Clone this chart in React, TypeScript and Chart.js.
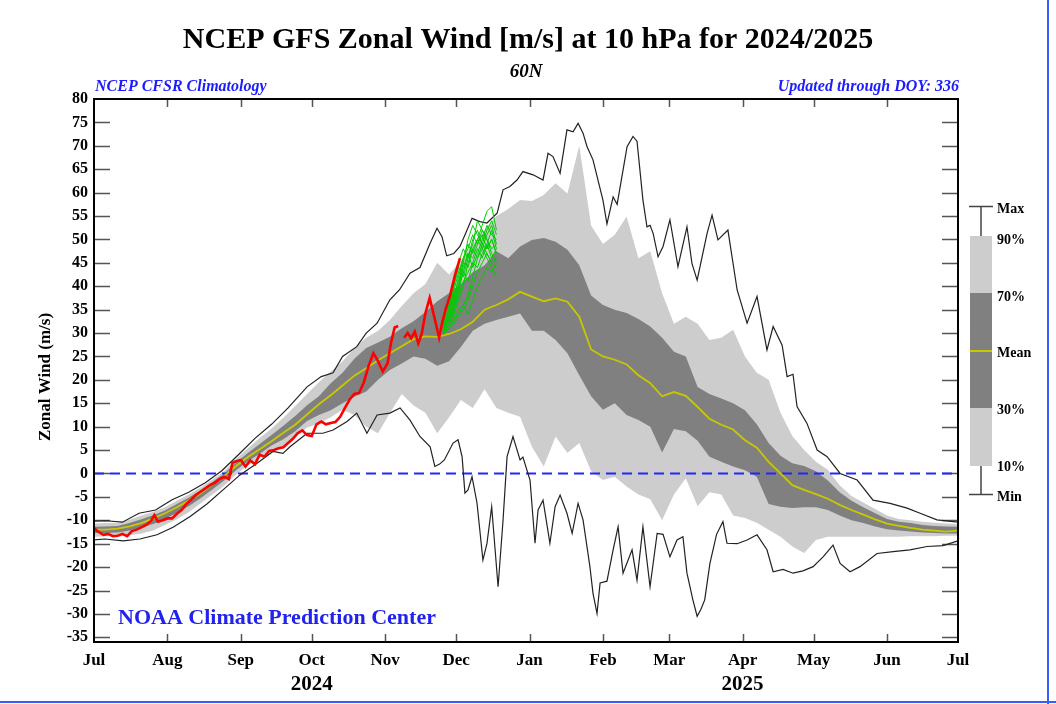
import React, { useEffect, useRef } from "react";
import { Chart, registerables } from "chart.js";
Chart.register(...registerables);

// ---------- DATA (day 0 = Jul 1 2024, day 365 = Jul 1 2025) ----------
const CLIM_DAYS = [0,5,10,15,20,25,30,35,40,45,50,55,60,65,70,75,80,85,90,95,100,105,110,115,120,125,130,135,140,145,150,155,160,165,170,175,180,185,190,195,200,205,210,215,220,225,230,235,240,245,250,255,260,265,270,275,280,285,290,295,300,305,310,315,320,325,330,335,340,345,350,355,360,365];

const MEAN = [-12.0,-12.0,-11.8,-11.3,-10.6,-9.6,-8.5,-7.2,-5.8,-4.2,-2.3,-0.5,1.6,3.5,5.2,6.9,8.7,10.4,12.6,14.8,16.7,18.8,20.9,22.5,24.2,25.7,27.2,28.7,29.3,29.2,29.8,30.8,32.4,35.0,36.0,37.2,38.8,37.8,36.8,37.4,36.7,33.5,26.5,25.0,24.3,23.3,21.0,19.3,16.5,17.4,16.6,14.2,11.7,10.4,9.4,7.1,5.5,2.5,0.0,-2.5,-3.5,-4.4,-5.4,-6.7,-7.8,-8.8,-9.8,-10.7,-11.2,-11.6,-12.0,-12.2,-12.4,-12.2];

const P90 = [-10.7,-10.6,-10.6,-9.9,-9.0,-8.2,-7.2,-5.8,-4.5,-3.0,-1.3,0.5,3.1,5.4,7.6,9.6,11.9,14.4,17.0,19.5,21.8,24.0,26.8,29.0,30.5,32.8,35.8,38.5,40.5,45.0,42.5,45.5,49.0,52.0,55.0,56.5,58.4,58.2,59.5,62.0,59.8,70.0,53.0,49.0,51.0,54.9,46.0,47.5,38.5,32.0,33.5,32.0,28.5,29.0,30.7,25.0,21.5,20.0,13.0,8.0,5.0,2.5,0.8,-2.5,-4.8,-6.2,-7.6,-9.0,-9.7,-10.0,-10.3,-10.5,-10.7,-10.8];

const P70 = [-11.4,-11.3,-11.2,-10.6,-9.8,-8.9,-7.9,-6.5,-5.2,-3.6,-1.8,0.0,2.3,4.4,6.3,8.2,10.2,12.3,14.6,16.5,19.3,21.5,24.5,26.8,28.0,29.2,31.0,32.5,34.5,36.8,38.5,40.5,43.0,44.5,47.5,46.0,48.5,49.9,50.3,49.5,47.8,44.5,38.0,36.0,35.0,34.3,33.0,31.4,29.0,26.0,25.0,18.5,17.0,16.0,15.0,13.5,10.5,6.5,3.8,2.2,1.6,0.5,-1.5,-4.0,-5.8,-7.2,-8.5,-9.7,-10.3,-10.6,-11.0,-11.2,-11.3,-11.4];

const P30 = [-12.7,-12.7,-12.6,-12.2,-11.6,-10.8,-9.7,-8.4,-7.0,-5.3,-3.4,-1.5,0.7,2.6,4.2,6.0,7.3,9.0,11.2,12.5,13.5,15.0,16.4,17.5,20.0,22.1,23.5,25.0,24.5,23.0,24.0,27.0,30.5,32.0,32.8,33.5,34.2,30.5,30.5,28.5,25.7,21.0,16.5,13.6,15.0,12.5,11.4,10.0,4.5,9.5,9.0,7.0,3.6,2.5,1.5,0.7,-0.7,-6.5,-7.1,-7.4,-7.2,-7.2,-7.8,-9.0,-10.0,-10.6,-11.3,-11.9,-12.2,-12.4,-12.6,-12.7,-12.8,-12.8];

const P10 = [-13.5,-13.4,-13.5,-13.2,-12.8,-12.2,-11.0,-9.8,-8.3,-6.4,-4.5,-2.6,-0.2,1.7,3.3,5.2,5.8,7.6,9.8,10.6,12.0,13.6,12.5,10.0,8.6,12.9,17.0,14.5,13.0,8.6,12.0,15.7,14.0,18.0,14.0,13.0,12.1,5.7,1.5,7.9,4.4,6.5,0.5,-1.4,-0.7,-2.8,-4.5,-5.5,-10.0,-4.5,-1.0,-7.0,-4.0,-4.5,-9.0,-9.5,-10.5,-12.0,-13.5,-15.6,-17.0,-14.2,-13.5,-13.5,-13.5,-13.5,-13.5,-13.5,-13.5,-13.4,-13.4,-13.4,-13.3,-13.3];

const MAX_DAYS = [0,5,12,19,26,33,40,47,54,61,68,75,82,90,96,101,105,111,115,119.6,125,129,133.5,137.7,142,144.9,147,149,152,154.6,157.6,159.7,163,166,170.3,172.8,175.7,178.7,181.2,185.5,189.7,191.8,193.9,196.9,199.8,202.4,204.5,206.6,208.3,210.8,215,216.7,219.3,221,225.2,227.7,229.4,231.9,233.6,234.9,236.2,238.3,240.4,243.3,246.7,250.5,252.6,254.8,259,261.1,263.6,267.8,271.7,275.9,280.1,284.3,286.9,290.7,292.8,295.3,297,301.2,305.5,309.7,315.2,322.4,329.1,336.3,343.5,349,356.1,365];
const MAX_VALS = [-10.2,-10.1,-10.4,-8.5,-7.8,-5.6,-4.0,-2.0,0.6,4.0,7.5,10.5,14.0,18.5,20.7,21.5,25.0,27.1,30.0,32.1,37.1,39.2,42.8,44.0,49.2,52.4,50.6,46.5,47.0,48.5,52.0,54.5,53.8,53.5,55.6,60.6,61.3,62.7,64.5,63.8,62.7,68.4,67.7,64.1,73.4,73.0,74.8,72.7,69.8,67.0,58.4,53.3,59.1,57.5,69.8,72.0,71.0,58.4,52.7,53.0,51.3,46.3,48.5,54.2,44.2,52.7,44.9,41.3,51.3,55.2,49.9,52.0,39.2,32.1,37.8,26.4,31.4,27.4,20.7,21.2,14.3,10.7,5.0,3.6,0.0,-1.4,-5.7,-6.4,-7.4,-8.5,-9.9,-10.4];

const MIN_DAYS = [0,4.6,12.3,19.4,26.6,33.4,40.6,47.7,54.5,61.7,68.9,75.6,79.8,82.8,88.3,90,96.7,101,106.9,111,115.3,119.6,125,129.3,133.5,137.7,142,144,146,148,151.7,153.8,155.5,156.7,158,159.7,161.8,164.3,166,168,170.7,172.8,174.5,177,180,181.2,184.2,186.3,187.6,189.7,192.6,194.8,196.9,199.8,202,204.5,206.6,209.5,210.8,212.5,213.8,216.7,219.3,221.4,223.5,227.3,229.4,231.9,234.9,237.9,240.4,243.3,246.3,248.8,250.5,253,254.8,256.4,258,260.2,263,265.7,267.4,271.7,275.9,280.1,284.3,286.9,291.1,295.3,299.5,303.8,308,312.2,315.2,319.4,323.6,330.8,337.6,344.7,351.9,358.7,365];
const MIN_VALS = [-14.2,-14.0,-14.4,-14.0,-13.1,-11.5,-9.2,-6.5,-3.5,-0.3,2.2,4.7,4.3,5.7,7.9,8.6,8.6,9.3,11.1,12.9,8.6,12.5,12.9,14.0,11.4,7.9,5.7,1.5,2.0,2.9,6.5,7.2,3.6,-4.2,-3.5,-0.7,-6.3,-18.5,-15.0,-7.1,-24.2,-10.0,3.6,7.9,2.9,3.5,-1.4,-14.9,-7.8,-5.7,-14.9,-7.1,-4.6,-8.5,-12.8,-6.4,-9.9,-19.9,-25.6,-29.9,-23.4,-23.0,-16.3,-11.4,-21.3,-16.3,-22.8,-11.4,-24.2,-12.8,-13.0,-17.8,-14.2,-13.5,-21.3,-27.0,-30.5,-29.0,-27.0,-19.2,-13.0,-10.3,-14.9,-15.0,-14.2,-13.1,-16.3,-21.0,-20.5,-21.3,-20.8,-19.9,-17.8,-15.3,-19.2,-21.0,-19.9,-17.1,-16.7,-16.3,-15.6,-15.4,-14.4];

const OBS_DAYS = [0,2,4,6,8,10,12,14,16,18,20,22,24,25.5,27,29,31,33,35,37,39,41,43,45,47,49,51,53,55,57,58.5,60,62,64,66,68,70,72,74,76,78,80,82,84,86,88,90,92,94,96,98,100,102,104,106,108,110,112,114,116,118,120,122,124,125.5,127,128.5,129.5,131,132.5,134,135.5,137,138.5,140,141.8,143.5,145.8,147,148.5,150.4,152.5,154.6];
const OBS_VALS = [-11.7,-12.5,-13.1,-12.9,-13.4,-13.3,-12.9,-13.4,-12.3,-12.0,-11.5,-11.0,-10.2,-8.9,-10.3,-10.0,-9.6,-9.6,-8.6,-7.8,-6.5,-5.6,-4.6,-3.9,-3.2,-2.5,-2.0,-1.2,-0.7,-1.2,2.3,2.6,2.9,1.5,2.8,2.0,4.0,3.6,4.8,5.0,5.4,5.6,6.5,7.4,8.6,9.2,8.2,8.0,10.5,11.1,10.5,10.8,11.0,12.1,14.0,15.8,17.0,17.2,19.5,23.0,25.7,24.0,21.8,23.5,28.0,31.2,31.5,null,29.0,30.0,28.9,30.3,27.8,30.0,34.2,37.5,34.0,29.0,32.0,35.0,38.0,42.4,46.0];

const FCST_DAYS = [147.5,150,152,154,156,158,160,162,164,166,168,170];
const FCST_MEMBERS = [
  [29.6,31,33,35,36,34,37,40,42,44,43,45],
  [30,33,36,40,44,47,46,49,51,48,50,47],
  [31,34,38,41,45,44,48,50,53,56,57,52],
  [30,32,35,38,41,43,45,44,47,49,46,48],
  [31,35,39,43,46,49,47,50,48,51,53,49],
  [30,32,34,37,40,45,48,46,49,47,45,46],
  [32,36,40,44,42,46,50,52,49,52,54,51],
  [30,31,33,34,36,38,42,46,48,46,44,42],
  [31,33,37,42,46,48,51,49,52,50,47,45],
  [30.5,34,38,40,43,47,44,47,50,53,51,50],
  [29.8,32,35,39,43,41,45,48,46,49,52,48],
  [31,33,36,40,45,50,53,51,49,48,50,47],
  [30,31,32,33.5,35,37,40,43,45,47,45,44],
  [31,35,40,45,48,46,49,54,52,50,48,49],
];

const MONTH_DAYS = [0,31,62,92,123,153,184,215,243,274,304,335,365];
const MONTH_LABELS = ["Jul","Aug","Sep","Oct","Nov","Dec","Jan","Feb","Mar","Apr","May","Jun","Jul"];
const Y_TICKS = [-35,-30,-25,-20,-15,-10,-5,0,5,10,15,20,25,30,35,40,45,50,55,60,65,70,75,80];
const YEAR_LABELS = ["2024","2025"];
const YEAR_DAYS = [92,274];
const LEGEND_LABELS = ["Max","90%","70%","Mean","30%","10%","Min"];

// ---------- STYLE ----------
const SERIF = '"Liberation Serif", "Times New Roman", serif';
const LIGHT = "rgb(205,205,205)";
const DARK = "rgb(128,128,128)";
const YELLOW = "#c8c800";
const BLUE = "#1c1cff";

const xy = (days: number[], vals: (number | null)[]) => days.map((d, i) => ({ x: d, y: vals[i] }));

const decor = {
  id: "decor",
  beforeDatasetsDraw(chart: any) {
    const { ctx, chartArea: a, scales } = chart;
    ctx.save();
    ctx.strokeStyle = "#555";
    ctx.lineWidth = 1.5;
    Y_TICKS.forEach((v) => {
      const y = Math.round(scales.y.getPixelForValue(v)) + 0.5;
      if (y <= a.top + 2 || y >= a.bottom - 2) return;
      ctx.beginPath();
      ctx.moveTo(a.left, y); ctx.lineTo(a.left + 16, y);
      ctx.moveTo(a.right - 16, y); ctx.lineTo(a.right, y);
      ctx.stroke();
    });
    MONTH_DAYS.forEach((d, i) => {
      if (i === 0 || i === MONTH_DAYS.length - 1) return;
      const x = Math.round(scales.x.getPixelForValue(d)) + 0.5;
      ctx.beginPath();
      ctx.moveTo(x, a.top); ctx.lineTo(x, a.top + 8);
      ctx.moveTo(x, a.bottom - 8); ctx.lineTo(x, a.bottom);
      ctx.stroke();
    });
    ctx.restore();
  },
  afterDatasetsDraw(chart: any) {
    const { ctx, chartArea: a } = chart;
    ctx.save();
    ctx.strokeStyle = "#000";
    ctx.lineWidth = 2;
    ctx.strokeRect(a.left, a.top, a.right - a.left, a.bottom - a.top);
    ctx.restore();
  },
  afterDraw(chart: any) {
    const { ctx, scales } = chart;
    ctx.save();
    ctx.fillStyle = "#000";
    ctx.textAlign = "center";
    ctx.textBaseline = "middle";
    ctx.font = `bold 30px ${SERIF}`;
    ctx.fillText("NCEP GFS Zonal Wind [m/s] at 10 hPa for 2024/2025", 528, 40);
    ctx.font = `italic bold 19px ${SERIF}`;
    ctx.fillText("60N", 526, 72);

    ctx.fillStyle = BLUE;
    ctx.font = `italic bold 16px ${SERIF}`;
    ctx.textAlign = "left";
    ctx.fillText("NCEP CFSR Climatology", 95, 87);
    ctx.textAlign = "right";
    ctx.fillText("Updated through DOY: 336", 959, 87);

    ctx.textAlign = "left";
    ctx.font = `bold 22px ${SERIF}`;
    ctx.fillStyle = "#2222ee";
    ctx.fillText("NOAA Climate Prediction Center", 118, 618);

    // year labels
    ctx.fillStyle = "#000";
    ctx.textAlign = "center";
    ctx.font = `bold 21px ${SERIF}`;
    YEAR_LABELS.forEach((t, i) => ctx.fillText(t, scales.x.getPixelForValue(YEAR_DAYS[i]), 685));

    // y-axis title
    ctx.save();
    ctx.translate(46, 377);
    ctx.rotate(-Math.PI / 2);
    ctx.font = `bold 17px ${SERIF}`;
    ctx.fillText("Zonal Wind (m/s)", 0, 0);
    ctx.restore();

    // legend
    const lx = 970, lw = 22, cx = 981;
    ctx.fillStyle = LIGHT;
    ctx.fillRect(lx, 236, lw, 230);
    ctx.fillStyle = DARK;
    ctx.fillRect(lx, 293, lw, 115);
    ctx.strokeStyle = YELLOW;
    ctx.lineWidth = 2;
    ctx.beginPath(); ctx.moveTo(lx, 351); ctx.lineTo(lx + lw, 351); ctx.stroke();
    ctx.strokeStyle = "#444";
    ctx.lineWidth = 1.5;
    ctx.beginPath();
    ctx.moveTo(cx, 206); ctx.lineTo(cx, 236);
    ctx.moveTo(cx, 466); ctx.lineTo(cx, 494);
    ctx.moveTo(lx - 1, 206.5); ctx.lineTo(lx + lw + 1, 206.5);
    ctx.moveTo(lx - 1, 494.5); ctx.lineTo(lx + lw + 1, 494.5);
    ctx.stroke();
    const ly = [209, 240, 297, 353, 410, 467, 497];
    ctx.fillStyle = "#000";
    ctx.textAlign = "left";
    ctx.font = `bold 14px ${SERIF}`;
    LEGEND_LABELS.forEach((t, i) => ctx.fillText(t, 997, ly[i]));

    // outer blue frame (right & bottom)
    ctx.strokeStyle = "#3b5bff";
    ctx.lineWidth = 2;
    ctx.beginPath();
    ctx.moveTo(1048, 0); ctx.lineTo(1048, 704);
    ctx.moveTo(0, 702); ctx.lineTo(1056, 702);
    ctx.stroke();
    ctx.restore();
  },
};

export default function App() {
  const ref = useRef<HTMLCanvasElement | null>(null);
  useEffect(() => {
    if (!ref.current) return;
    const datasets: any[] = [
      // 0
      { data: xy(CLIM_DAYS, P90), borderWidth: 0, borderColor: "rgba(0,0,0,0)", backgroundColor: LIGHT, fill: 1, order: 10 },
      // 1
      { data: xy(CLIM_DAYS, P10), borderWidth: 0, borderColor: "rgba(0,0,0,0)", fill: false, order: 10 },
      // 2
      { data: xy(CLIM_DAYS, P70), borderWidth: 0, borderColor: "rgba(0,0,0,0)", backgroundColor: DARK, fill: 3, order: 9 },
      // 3
      { data: xy(CLIM_DAYS, P30), borderWidth: 0, borderColor: "rgba(0,0,0,0)", fill: false, order: 9 },
      // 4 zero line
      { data: [{ x: 0, y: 0 }, { x: 365, y: 0 }], borderColor: "#2424ff", borderWidth: 2, borderDash: [10, 6], fill: false, order: 7 },
      // 5 max
      { data: xy(MAX_DAYS, MAX_VALS), borderColor: "#222", borderWidth: 1.2, fill: false, order: 6 },
      // 6 min
      { data: xy(MIN_DAYS, MIN_VALS), borderColor: "#222", borderWidth: 1.2, fill: false, order: 6 },
      // 7 mean
      { data: xy(CLIM_DAYS, MEAN), borderColor: YELLOW, borderWidth: 1.8, fill: false, order: 5 },
    ];
    FCST_MEMBERS.forEach((m) =>
      datasets.push({ data: xy(FCST_DAYS, m), borderColor: "#00cc00", borderWidth: 1, fill: false, order: 3 })
    );
    datasets.push({ data: xy(OBS_DAYS, OBS_VALS), borderColor: "#ff0000", borderWidth: 2.6, fill: false, order: 1 });

    const chart = new Chart(ref.current, {
      type: "line",
      data: { datasets },
      options: {
        animation: false,
        responsive: false,
        devicePixelRatio: 1,
        events: [],
        layout: { padding: { left: 0, right: 98, top: 99, bottom: 0 } },
        elements: { point: { radius: 0 }, line: { tension: 0 } },
        plugins: { legend: { display: false }, tooltip: { enabled: false }, title: { display: false } },
        scales: {
          x: {
            type: "linear",
            min: 0,
            max: 365,
            grid: { display: false, drawTicks: false },
            border: { display: false },
            afterBuildTicks: (s: any) => { s.ticks = MONTH_DAYS.map((v) => ({ value: v })); },
            afterFit: (s: any) => { s.height = 62; },
            ticks: {
              autoSkip: false,
              maxRotation: 0,
              padding: 8,
              color: "#000",
              font: { family: SERIF, size: 17, weight: "bold" },
              callback: (_v: any, i: number) => MONTH_LABELS[i],
            },
          },
          y: {
            type: "linear",
            min: -36,
            max: 80,
            grid: { display: false, drawTicks: false },
            border: { display: false },
            afterBuildTicks: (s: any) => { s.ticks = Y_TICKS.map((v) => ({ value: v })); },
            afterFit: (s: any) => { s.width = 94; },
            ticks: {
              autoSkip: false,
              padding: 6,
              color: "#000",
              font: { family: SERIF, size: 16, weight: "bold" },
              callback: (v: any) => String(v),
            },
          },
        },
      },
      plugins: [decor],
    } as any);
    return () => chart.destroy();
  }, []);
  return (
    <div style={{ position: "absolute", left: 0, top: 0, width: 1056, height: 704, background: "#fff" }}>
      <canvas ref={ref} width={1056} height={704} style={{ display: "block", width: 1056, height: 704 }} />
    </div>
  );
}
